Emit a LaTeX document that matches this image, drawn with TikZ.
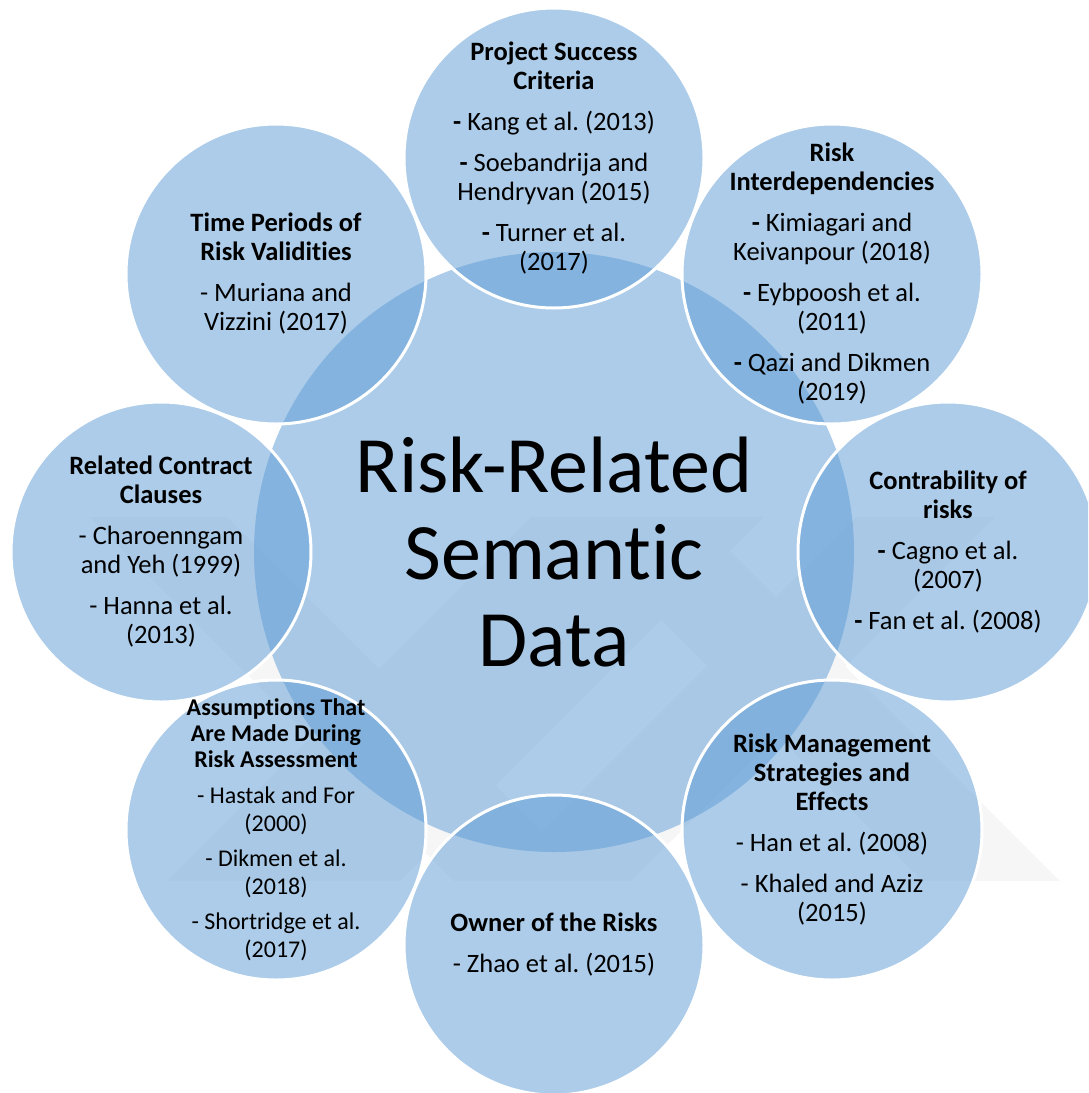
\documentclass[tikz,border=0pt]{standalone}
\usepackage{fontspec}
\setmainfont{Carlito}[Ligatures=NoCommon]
\definecolor{accent}{RGB}{91,155,213}
\newcommand{\hb}[1]{\textbf{#1}}
\begin{document}
\frenchspacing
\begin{tikzpicture}[x=1pt,y=-1pt,
  outer/.style={circle, minimum size=300pt, inner sep=0pt, fill=accent, fill opacity=0.5, draw=white, line width=3pt},
  central/.style={circle, minimum size=600pt, inner sep=0pt, fill=accent, fill opacity=0.5},
  txt/.style={align=center, inner sep=0pt, text=black, font=\fontsize{26.5}{29}\selectfont},
  smalltxt/.style={align=center, inner sep=0pt, text=black, font=\fontsize{24}{28}\selectfont},
  titletxt/.style={align=center, inner sep=0pt, text=black, font=\fontsize{80}{87}\selectfont},
  wmark/.style={fill=black, fill opacity=0.035, draw=none}]
\useasboundingbox (0,0) rectangle (1088,1093);
\clip (0,0) rectangle (1088,1093);
\fill[white] (0,0) rectangle (1088,1093);
% faint watermark bands
\path[wmark] (90,517) -- (227,517) -- (591,881) -- (454,881) -- cycle
  (531,517) -- (764,517) -- (400,881) -- (167,881) -- cycle
  (559,517) -- (696,517) -- (1060,881) -- (923,881) -- cycle
  (856,517) -- (995,517) -- (631,881) -- (492,881) -- cycle;
% circles
\node[central] (ctr) at (554,552) {};
\node[outer] (c1) at (554,158) {};
\node[outer] (c2) at (832,274) {};
\node[outer] (c3) at (948,552) {};
\node[outer] (c4) at (832,830) {};
\node[outer] (c5) at (554,945) {};
\node[outer] (c6) at (276,830) {};
\node[outer] (c7) at (161,552) {};
\node[outer] (c8) at (276,274) {};
% texts
\node[titletxt] (ttl) at (ctr.center) {Risk-Related\\Semantic\\Data};
\node[txt] (t1) at (c1.center) {\hb{Project Success}\\\hb{Criteria}\\[12pt]\hb{-} Kang et al. (2013)\\[12pt]\hb{-} Soebandrija and\\Hendryvan (2015)\\[12pt]\hb{-} Turner et al.\\(2017)};
\node[txt] (t2) at (c2.center) {\hb{Risk}\\\hb{Interdependencies}\\[12pt]\hb{-} Kimiagari and\\Keivanpour (2018)\\[12pt]\hb{-} Eybpoosh et al.\\(2011)\\[12pt]\hb{-} Qazi and Dikmen\\(2019)};
\node[txt] (t3) at (c3.center) {\hb{Contrability of}\\\hb{risks}\\[12pt]\hb{-} Cagno et al.\\(2007)\\[12pt]\hb{-} Fan et al. (2008)};
\node[txt] (t4) at (c4.center) {\hb{Risk Management}\\\hb{Strategies and}\\\hb{Effects}\\[12pt]- Han et al. (2008)\\[12pt]- Khaled and Aziz\\(2015)};
\node[txt] (t5) at (c5.center) {\hb{Owner of the Risks}\\[12pt]- Zhao et al. (2015)};
\node[smalltxt] (t6) at (c6.center) {\hb{Assumptions That}\\[-2pt]\hb{Are Made During}\\[-2pt]\hb{Risk Assessment}\\[8pt]- Hastak and For\\(2000)\\[7pt]- Dikmen et al.\\(2018)\\[7pt]- Shortridge et al.\\(2017)};
\node[txt] (t7) at (c7.center) {\hb{Related Contract}\\\hb{Clauses}\\[12pt]- Charoenngam\\and Yeh (1999)\\[12pt]- Hanna et al.\\(2013)};
\node[txt] (t8) at (c8.center) {\hb{Time Periods of}\\\hb{Risk Validities}\\[12pt]- Muriana and\\Vizzini (2017)};
\end{tikzpicture}
\end{document}
